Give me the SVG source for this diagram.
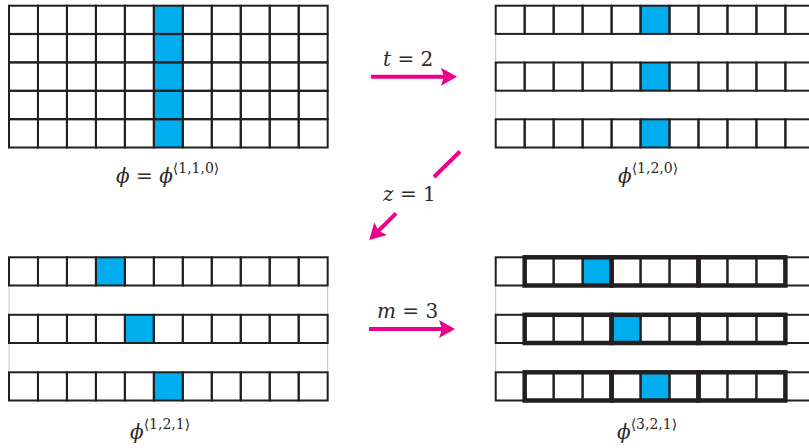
<svg xmlns="http://www.w3.org/2000/svg" xmlns:xlink="http://www.w3.org/1999/xlink" width="809" height="448" viewBox="0 0 809 448">
<style>
.c{fill:none;stroke:#231f20;stroke-width:2}
.b{fill:#00aeef}
.k{fill:none;stroke:#231f20;stroke-width:4.5}
.gap{stroke:#c4c4c4;stroke-width:1}
.a{stroke:#ec008c;stroke-width:4;fill:none}
.t{font-family:'DejaVu Serif',serif;font-size:20px;fill:#2a2a2a}
.i{font-style:italic}
.s{font-size:14px}
</style>
<defs>
<g id="row">
<rect class="c" x="0" y="0" width="28.97" height="28.2"/>
<rect class="c" x="28.97" y="0" width="28.97" height="28.2"/>
<rect class="c" x="57.94" y="0" width="28.97" height="28.2"/>
<rect class="c" x="86.91" y="0" width="28.97" height="28.2"/>
<rect class="c" x="115.88" y="0" width="28.97" height="28.2"/>
<rect class="c" x="144.85" y="0" width="28.97" height="28.2"/>
<rect class="c" x="173.82" y="0" width="28.97" height="28.2"/>
<rect class="c" x="202.79" y="0" width="28.97" height="28.2"/>
<rect class="c" x="231.76" y="0" width="28.97" height="28.2"/>
<rect class="c" x="260.73" y="0" width="28.97" height="28.2"/>
<rect class="c" x="289.7" y="0" width="28.97" height="28.2"/>
</g>
<g id="blocks">
<rect class="k" x="28.97" y="0" width="86.91" height="28.2"/>
<rect class="k" x="115.88" y="0" width="86.91" height="28.2"/>
<rect class="k" x="202.79" y="0" width="86.91" height="28.2"/>
</g>
<marker id="head" viewBox="0 0 16 18" refX="3" refY="9" markerWidth="16" markerHeight="18" markerUnits="userSpaceOnUse" orient="auto">
<path d="M0,0 L16,9 L0,18 L3,9 Z" fill="#ec008c"/>
</marker>
</defs>
<rect width="809" height="448" fill="#fff"/>

<g id="phi110">
<rect class="b" x="153.85" y="5.7" width="28.97" height="142"/>
<use xlink:href="#row" x="9" y="5.7"/>
<use xlink:href="#row" x="9" y="34.1"/>
<use xlink:href="#row" x="9" y="62.5"/>
<use xlink:href="#row" x="9" y="90.9"/>
<use xlink:href="#row" x="9" y="119.3"/>
<text class="t" x="116" y="183"><tspan class="i">ϕ</tspan> = <tspan class="i">ϕ</tspan><tspan class="s" dy="-10">⟨1,1,0⟩</tspan></text>
</g>

<g id="phi120">
<line class="gap" x1="495.7" y1="33.9" x2="495.7" y2="62.5"/>
<line class="gap" x1="495.7" y1="90.7" x2="495.7" y2="119.3"/>
<rect class="b" x="640.55" y="5.7" width="28.97" height="28.2"/>
<rect class="b" x="640.55" y="62.5" width="28.97" height="28.2"/>
<rect class="b" x="640.55" y="119.3" width="28.97" height="28.2"/>
<use xlink:href="#row" x="495.7" y="5.7"/>
<use xlink:href="#row" x="495.7" y="62.5"/>
<use xlink:href="#row" x="495.7" y="119.3"/>
<text class="t" x="618" y="183"><tspan class="i">ϕ</tspan><tspan class="s" dy="-10">⟨1,2,0⟩</tspan></text>
</g>

<g id="phi121">
<line class="gap" x1="9" y1="285.5" x2="9" y2="314.8"/>
<line class="gap" x1="9" y1="343" x2="9" y2="372.3"/>
<line class="gap" x1="327.67" y1="285.5" x2="327.67" y2="314.8"/>
<line class="gap" x1="327.67" y1="343" x2="327.67" y2="372.3"/>
<rect class="b" x="95.91" y="257.3" width="28.97" height="28.2"/>
<rect class="b" x="124.88" y="314.8" width="28.97" height="28.2"/>
<rect class="b" x="153.85" y="372.3" width="28.97" height="28.2"/>
<use xlink:href="#row" x="9" y="257.3"/>
<use xlink:href="#row" x="9" y="314.8"/>
<use xlink:href="#row" x="9" y="372.3"/>
<text class="t" x="130" y="439"><tspan class="i">ϕ</tspan><tspan class="s" dy="-10">⟨1,2,1⟩</tspan></text>
</g>

<g id="phi321">
<line class="gap" x1="495.7" y1="285.5" x2="495.7" y2="314.8"/>
<line class="gap" x1="495.7" y1="343" x2="495.7" y2="372.3"/>
<rect class="b" x="582.61" y="257.3" width="28.97" height="28.2"/>
<rect class="b" x="611.58" y="314.8" width="28.97" height="28.2"/>
<rect class="b" x="640.55" y="372.3" width="28.97" height="28.2"/>
<use xlink:href="#row" x="495.7" y="257.3"/>
<use xlink:href="#row" x="495.7" y="314.8"/>
<use xlink:href="#row" x="495.7" y="372.3"/>
<use xlink:href="#blocks" x="495.7" y="257.3"/>
<use xlink:href="#blocks" x="495.7" y="314.8"/>
<use xlink:href="#blocks" x="495.7" y="372.3"/>
<text class="t" x="617" y="439"><tspan class="i">ϕ</tspan><tspan class="s" dy="-10">⟨3,2,1⟩</tspan></text>
</g>

<g id="connectors">
<line class="a" x1="371" y1="76.7" x2="444" y2="76.7" marker-end="url(#head)"/>
<text class="t" x="383" y="66"><tspan class="i">t</tspan> = 2</text>
<line class="a" x1="460" y1="151.5" x2="434" y2="177"/>
<line class="a" x1="396" y1="213.3" x2="378.5" y2="230.8" marker-end="url(#head)"/>
<text class="t" x="383" y="201"><tspan class="i">z</tspan> = 1</text>
<line class="a" x1="369" y1="329" x2="442" y2="329" marker-end="url(#head)"/>
<text class="t" x="377" y="318"><tspan class="i">m</tspan> = 3</text>
</g>
</svg>
